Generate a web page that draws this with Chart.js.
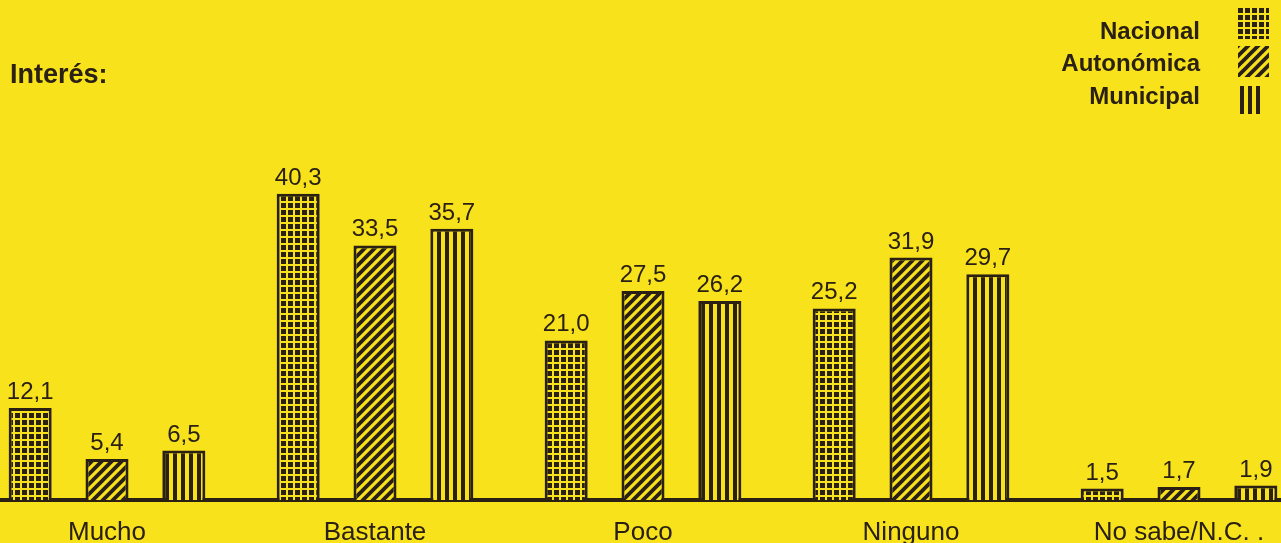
<!DOCTYPE html>
<html>
<head>
<meta charset="utf-8">
<script src="https://cdn.jsdelivr.net/npm/chart.js@4"></script>
<style>
  html, body { margin: 0; padding: 0; background: #f8e21c; overflow: hidden; }
  #wrap { position: absolute; left: -27px; top: 0; width: 1340px; height: 543px; }
</style>
</head>
<body>
<div id="wrap"><canvas id="chartInteres"></canvas></div>
<script>
const categorias = ['Mucho', 'Bastante', 'Poco', 'Ninguno', 'No sabe/N.C. .'];
const nacional = [12.1, 40.3, 21.0, 25.2, 1.5];
const autonomica = [5.4, 33.5, 27.5, 31.9, 1.7];
const municipal = [6.5, 35.7, 26.2, 29.7, 1.9];

const AMARILLO = '#f8e21c';
const OSCURO = '#2a2013';
const FUENTE = '"Liberation Sans", Arial, sans-serif';

// tramas de las barras
function trama(tipo) {
    const c = document.createElement('canvas');
    const ctx = c.getContext('2d');
    if (tipo === 'rejilla') {
        c.width = 7; c.height = 7;
        ctx.fillStyle = OSCURO; ctx.fillRect(0, 0, 7, 7);
        ctx.fillStyle = AMARILLO;
        ctx.fillRect(5, 0, 2, 7);
        ctx.fillRect(0, 5, 7, 2);
    } else if (tipo === 'diagonal') {
        c.width = 10; c.height = 10;
        ctx.fillStyle = AMARILLO; ctx.fillRect(0, 0, 10, 10);
        ctx.strokeStyle = OSCURO; ctx.lineWidth = 3.8;
        ctx.beginPath();
        ctx.moveTo(-5, 5); ctx.lineTo(5, -5);
        ctx.moveTo(-5, 15); ctx.lineTo(15, -5);
        ctx.moveTo(5, 15); ctx.lineTo(15, 5);
        ctx.stroke();
    } else {
        c.width = 8; c.height = 8;
        ctx.fillStyle = AMARILLO; ctx.fillRect(0, 0, 8, 8);
        ctx.fillStyle = OSCURO; ctx.fillRect(0, 0, 4, 8);
    }
    return ctx.createPattern(c, 'repeat');
}

const textos = {
    id: 'textos',
    afterDatasetsDraw(chart) {
        const ctx = chart.ctx;
        ctx.save();
        // valores encima de las barras
        ctx.fillStyle = OSCURO;
        ctx.font = '24px ' + FUENTE;
        ctx.textAlign = 'center';
        ctx.textBaseline = 'alphabetic';
        chart.data.datasets.forEach((ds, i) => {
            chart.getDatasetMeta(i).data.forEach((bar, j) => {
                ctx.fillText(ds.data[j].toFixed(1).replace('.', ','), bar.x, bar.y - 9);
            });
        });
        // titulo
        ctx.font = 'bold 27px ' + FUENTE;
        ctx.textAlign = 'left';
        ctx.fillText('Interés:', 37, 83);
        // leyenda
        ctx.font = 'bold 24px ' + FUENTE;
        const bases = [39, 71, 104];
        const cajas = [[1265, 8, 31, 31], [1265, 46, 31, 31], [1267, 86, 21, 28]];
        chart.data.datasets.forEach((ds, i) => {
            ctx.textAlign = 'right';
            ctx.fillStyle = OSCURO;
            ctx.fillText(ds.label, 1227, bases[i]);
            const [x, y, w, h] = cajas[i];
            ctx.save();
            ctx.translate(x, y);
            ctx.fillStyle = ds.backgroundColor;
            ctx.fillRect(0, 0, w, h);
            ctx.restore();
        });
        ctx.restore();
    }
};

new Chart(document.getElementById('chartInteres'), {
    type: 'bar',
    data: {
        labels: categorias,
        datasets: [
            { label: 'Nacional', data: nacional, backgroundColor: trama('rejilla') },
            { label: 'Autonómica', data: autonomica, backgroundColor: trama('diagonal') },
            { label: 'Municipal', data: municipal, backgroundColor: trama('vertical') }
        ]
    },
    options: {
        responsive: true,
        maintainAspectRatio: false,
        animation: false,
        layout: { padding: { top: 44, left: 0, right: 0, bottom: 0 } },
        datasets: {
            bar: {
                borderColor: OSCURO,
                borderWidth: 3,
                borderSkipped: 'bottom',
                categoryPercentage: 0.86,
                barPercentage: 0.56
            }
        },
        plugins: {
            legend: { display: false },
            tooltip: { enabled: false }
        },
        scales: {
            x: {
                grid: { display: false },
                border: { display: true, color: OSCURO, width: 4 },
                ticks: {
                    color: OSCURO,
                    padding: 9,
                    maxRotation: 0,
                    font: { family: FUENTE, size: 26 }
                },
                afterFit(scale) { scale.height = 43; }
            },
            y: {
                display: false,
                min: 0,
                max: 60
            }
        }
    },
    plugins: [textos]
});
</script>
</body>
</html>
